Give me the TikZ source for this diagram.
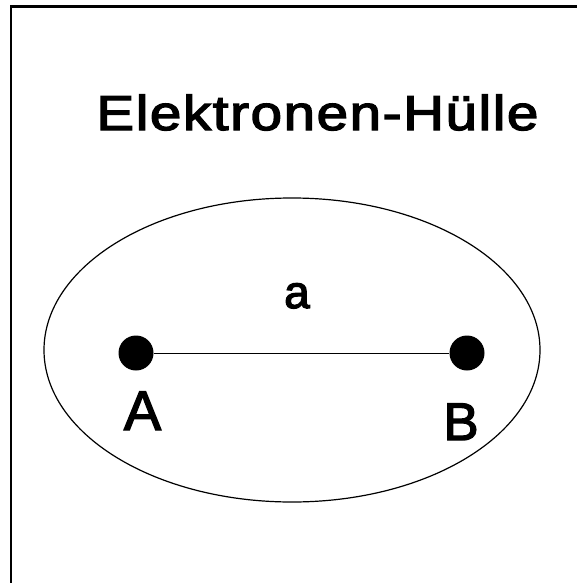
\documentclass[tikz,border=0pt]{standalone}
\usepackage{fontspec}
\setmainfont{Liberation Sans}
\newcommand{\heavytext}[2]{\special{pdf:literal direct 2 Tr #1 w}#2\special{pdf:literal direct 0 Tr}}
\begin{document}
\begin{tikzpicture}[x=1pt,y=-1pt,
  dot/.style={circle,fill=black,inner sep=0pt,minimum size=35pt},
  lbl/.style={anchor=base,inner sep=0pt}]
\useasboundingbox (0,0) rectangle (577,583);
\draw[line width=2.5pt] (11,583) -- (11,6.5) -- (577,6.5);
\node[lbl,xscale=1.15,font={\fontsize{49}{55}\selectfont\addfontfeatures{LetterSpace=3}}] (title) at (317.5,130) {\heavytext{1.3}{Elektronen-Hülle}};
\draw[line width=1.2pt] (292,350) ellipse [x radius=248, y radius=152];
\node[dot] (A) at (136,353) {};
\node[dot] (B) at (467,353) {};
\draw[line width=1pt] (A) -- (B);
\node[lbl,font={\fontsize{46}{50}\selectfont}] (a) at (297,308) {\heavytext{1.3}{a}};
\node[lbl,font={\fontsize{56}{60}\selectfont}] (Alabel) at (142.5,430) {\heavytext{1.3}{A}};
\node[lbl,font={\fontsize{53}{60}\selectfont}] (Blabel) at (461,440) {\heavytext{1.3}{B}};
\end{tikzpicture}
\end{document}
